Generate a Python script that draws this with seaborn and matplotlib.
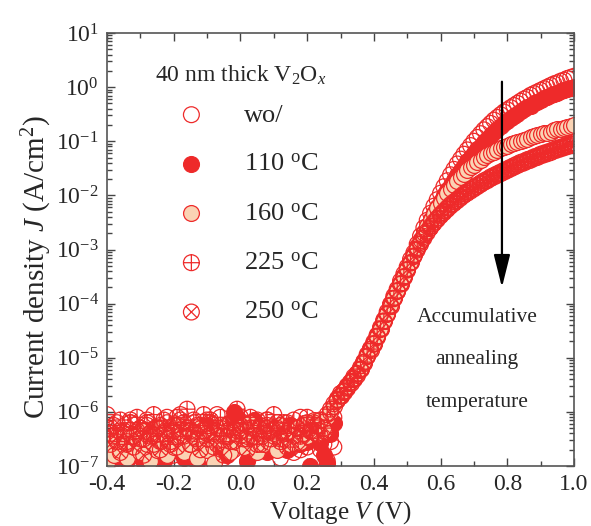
import numpy as np
import pandas as pd
import matplotlib
matplotlib.use("Agg")
import matplotlib.pyplot as plt
from matplotlib.path import Path
from matplotlib.ticker import (MultipleLocator, FixedLocator, FuncFormatter,
                               NullFormatter)
import seaborn as sns

# Voltage sweep, -0.4 V to 1.0 V in 10 mV steps
voltage = np.round(np.linspace(-0.40, 1.00, 141), 2)

# log10 of current density (A/cm^2) for each annealing condition
log_j_wo = [
    -6.55, -6.90, -7.05, -6.60, -6.35, -6.75, -6.45, -6.20, -6.60, -6.85,
    -6.30, -6.50, -6.15, -6.70, -6.40, -6.95, -6.25, -6.55, -6.10, -6.45,
    -6.80, -6.35, -6.05, -6.60, -6.30, -6.75, -6.20, -6.50, -6.90, -6.40,
    -6.15, -6.65, -6.35, -6.05, -6.55, -6.85, -6.25, -6.45, -6.70, -6.30,
    -6.10, -6.60, -6.40, -6.80, -6.20, -6.50, -6.35, -6.70, -6.15, -6.45,
    -6.60, -6.30, -6.85, -6.40, -6.20, -6.55, -6.75, -6.35, -6.10, -6.50,
    -6.65, -6.30, -6.45, -6.20, -6.70, -6.40, -6.90, -6.55, -6.65,
    -5.80, -5.66, -5.62, -5.52, -5.47, -5.35, -5.29, -5.18, -5.07, -4.94,
    -4.83, -4.71, -4.58, -4.44, -4.30, -4.15, -4.01, -3.86, -3.73, -3.58,
    -3.45, -3.32, -3.18,
    -3.06, -2.90, -2.75, -2.60, -2.46, -2.33, -2.20, -2.08, -1.96, -1.84,
    -1.73, -1.62, -1.52, -1.42, -1.33, -1.24, -1.16, -1.08, -1.00, -0.93,
    -0.86, -0.79, -0.73, -0.67, -0.61, -0.56, -0.51, -0.46, -0.42, -0.38,
    -0.34, -0.30, -0.26, -0.22, -0.19, -0.15, -0.12, -0.09, -0.06, -0.03,
    0.00, 0.03, 0.06, 0.08, 0.11, 0.13, 0.16, 0.18, 0.20,
]
log_j_110 = [
    -6.75, -6.95, -6.60, -6.85, -6.70, -6.50, -6.90, -6.65, -6.40, -6.80,
    -6.55, -6.95, -6.35, -6.70, -6.85, -6.45, -6.60, -6.90, -6.50, -6.75,
    -6.30, -6.65, -6.45, -6.85, -6.55, -6.40, -6.70, -6.95, -6.35, -6.60,
    -6.25, -6.50, -7.10, -6.40, -6.65, -6.30, -6.80, -6.45, -6.00, -6.10,
    -6.20, -6.35, -6.90, -6.50, -6.15, -6.40, -6.60, -6.30, -6.75, -6.45,
    -6.35, -6.55, -6.30, -6.40, -6.70, -6.25, -6.50, -6.35, -6.60, -6.40,
    -6.55, -7.00, -6.45, -6.35, -6.58, -6.80, -6.95, -6.40, -6.20,
    -5.74, -5.71, -5.60, -5.55, -5.44, -5.39, -5.28, -5.21, -5.07, -4.97,
    -4.83, -4.74, -4.59, -4.47, -4.31, -4.19, -4.03, -3.90, -3.76, -3.63,
    -3.49, -3.37, -3.22,
    -3.08, -2.94, -2.81, -2.68, -2.56, -2.44, -2.32, -2.21, -2.10, -2.00,
    -1.90, -1.80, -1.71, -1.62, -1.53, -1.45, -1.37, -1.29, -1.22, -1.15,
    -1.08, -1.01, -0.95, -0.89, -0.83, -0.77, -0.72, -0.67, -0.62, -0.57,
    -0.53, -0.49, -0.45, -0.41, -0.37, -0.34, -0.30, -0.27, -0.24, -0.21,
    -0.18, -0.15, -0.13, -0.10, -0.08, -0.06, -0.04, -0.02, 0.00,
]
log_j_160 = [
    -6.95, -6.60, -6.80, -6.45, -6.70, -6.55, -6.85, -6.40, -6.65, -6.50,
    -6.75, -6.35, -6.60, -6.90, -6.45, -6.70, -6.30, -6.55, -6.80, -6.40,
    -6.65, -6.25, -6.50, -6.75, -6.35, -6.60, -6.45, -6.85, -6.30, -6.55,
    -6.70, -6.40, -6.95, -6.50, -6.25, -6.60, -6.45, -6.75, -6.35, -6.55,
    -6.30, -6.65, -6.45, -6.20, -6.50, -6.75, -6.40, -6.60, -6.30, -6.55,
    -6.45, -6.70, -6.25, -6.50, -6.35, -6.60, -6.40, -6.30, -6.55, -6.20,
    -6.45, -6.35, -6.15, -6.40, -6.25, -6.35, -6.10, -6.00, -5.90,
    -5.76, -5.69, -5.64, -5.53, -5.47, -5.37, -5.31, -5.19, -5.09, -4.95,
    -4.85, -4.72, -4.61, -4.45, -4.33, -4.17, -4.04, -3.88, -3.77, -3.61,
    -3.50, -3.35, -3.23,
    -3.09, -2.95, -2.82, -2.69, -2.57, -2.45, -2.34, -2.24, -2.14, -2.05,
    -1.96, -1.88, -1.80, -1.73, -1.66, -1.60, -1.54, -1.48, -1.43, -1.38,
    -1.34, -1.30, -1.26, -1.22, -1.19, -1.16, -1.13, -1.10, -1.08, -1.05,
    -1.03, -1.01, -0.99, -0.97, -0.95, -0.93, -0.91, -0.89, -0.87, -0.85,
    -0.84, -0.82, -0.80, -0.78, -0.77, -0.75, -0.73, -0.72, -0.70,
]
log_j_225 = [
    -6.05, -6.40, -6.25, -6.55, -6.15, -6.35, -6.60, -6.20, -6.45, -6.10,
    -6.30, -6.50, -6.20, -6.40, -6.05, -6.30, -6.55, -6.15, -6.35, -6.60,
    -6.25, -6.10, -6.45, -6.20, -5.95, -6.35, -6.15, -6.50, -6.25, -6.05,
    -6.40, -6.20, -6.65, -6.30, -6.10, -6.45, -6.25, -6.55, -6.15, -5.95,
    -6.35, -6.20, -6.50, -6.10, -6.30, -6.60, -6.25, -6.40, -6.15, -6.35,
    -6.05, -6.30, -6.50, -6.20, -6.40, -6.65, -6.15, -6.30, -6.45, -6.25,
    -6.10, -6.35, -6.20, -6.40, -6.15, -6.30, -6.05, -5.95, -5.85,
    -5.78, -5.70, -5.62, -5.55, -5.45, -5.38, -5.29, -5.21, -5.08, -4.97,
    -4.84, -4.74, -4.60, -4.47, -4.32, -4.19, -4.03, -3.90, -3.76, -3.63,
    -3.50, -3.37, -3.24,
    -3.12, -2.99, -2.87, -2.76, -2.66, -2.57, -2.49, -2.42, -2.35, -2.29,
    -2.23, -2.17, -2.12, -2.07, -2.02, -1.97, -1.93, -1.89, -1.85, -1.81,
    -1.77, -1.73, -1.70, -1.66, -1.63, -1.60, -1.57, -1.54, -1.51, -1.48,
    -1.45, -1.42, -1.39, -1.37, -1.34, -1.32, -1.29, -1.27, -1.24, -1.22,
    -1.20, -1.18, -1.15, -1.13, -1.11, -1.09, -1.07, -1.05, -1.03,
]
log_j_250 = [
    -6.30, -6.60, -6.45, -6.20, -6.75, -6.40, -6.55, -6.15, -6.65, -6.35,
    -6.50, -6.80, -6.25, -6.45, -6.60, -6.30, -6.70, -6.40, -6.20, -6.55,
    -6.35, -6.65, -6.15, -6.45, -6.30, -6.60, -6.40, -6.25, -6.70, -6.35,
    -6.50, -6.15, -6.40, -6.60, -6.30, -6.80, -6.45, -6.20, -6.55, -6.35,
    -6.25, -6.50, -6.70, -6.30, -6.45, -6.15, -6.60, -6.35, -6.25, -6.50,
    -6.40, -6.20, -6.55, -6.35, -6.65, -6.25, -6.45, -6.30, -6.70, -6.40,
    -6.20, -6.50, -6.35, -6.25, -6.45, -6.60, -7.00, -6.40, -6.10,
    -5.79, -5.71, -5.63, -5.56, -5.46, -5.39, -5.30, -5.22, -5.09, -4.98,
    -4.85, -4.75, -4.61, -4.48, -4.33, -4.20, -4.04, -3.91, -3.77, -3.64,
    -3.51, -3.38, -3.25,
    -3.13, -3.01, -2.90, -2.79, -2.69, -2.60, -2.52, -2.45, -2.38, -2.32,
    -2.26, -2.20, -2.15, -2.10, -2.05, -2.00, -1.96, -1.92, -1.88, -1.84,
    -1.80, -1.76, -1.73, -1.69, -1.66, -1.63, -1.60, -1.57, -1.54, -1.51,
    -1.48, -1.45, -1.42, -1.40, -1.37, -1.35, -1.32, -1.30, -1.27, -1.25,
    -1.23, -1.21, -1.18, -1.16, -1.14, -1.12, -1.10, -1.08, -1.06,
]

labels = ["wo/", "110 $^\\mathrm{o}$C", "160 $^\\mathrm{o}$C",
          "225 $^\\mathrm{o}$C", "250 $^\\mathrm{o}$C"]
series = [log_j_wo, log_j_110, log_j_160, log_j_225, log_j_250]
legend_title = "40 nm thick V$_2$O$_x$"

# Decades shown on the current-density axis
y_decades = [-7, -6, -5, -4, -3, -2, -1, 0, 1]

# Arrow marking the trend with annealing temperature (V, log10 J)
arrow_v = 0.784
arrow_log_j = (0.10, -3.70)
note_v, note_log_j = 0.709, -5.04

RED = "#ee2a2a"
PEACH = "#fad3b4"

# Circle markers with an inscribed "+" or "x"
circ = Path.unit_circle()
s2 = np.sqrt(0.5)
plus_path = Path.make_compound_path(
    circ, Path([(-1, 0), (1, 0), (0, -1), (0, 1)],
               [Path.MOVETO, Path.LINETO, Path.MOVETO, Path.LINETO]))
cross_path = Path.make_compound_path(
    circ, Path([(-s2, -s2), (s2, s2), (-s2, s2), (s2, -s2)],
               [Path.MOVETO, Path.LINETO, Path.MOVETO, Path.LINETO]))

styles = [
    dict(marker="o", facecolor="none", edgecolor=RED),
    dict(marker="o", facecolor=RED, edgecolor=RED),
    dict(marker="o", facecolor=PEACH, edgecolor=RED),
    dict(marker=plus_path, facecolor="none", edgecolor=RED),
    dict(marker=cross_path, facecolor="none", edgecolor=RED),
]

for lab, vals in zip(labels, series):
    assert len(vals) == len(voltage), lab

df = pd.concat([
    pd.DataFrame({"V": voltage, "J": 10.0 ** np.array(vals), "sample": lab})
    for lab, vals in zip(labels, series)
], ignore_index=True)

sns.set_style("ticks")
plt.rcParams.update({
    "font.family": ["Liberation Serif", "DejaVu Serif"],
    "mathtext.fontset": "custom",
    "mathtext.rm": "Liberation Serif",
    "mathtext.it": "Liberation Serif:italic",
    "mathtext.bf": "Liberation Serif:bold",
    "axes.unicode_minus": False,
    "axes.edgecolor": "#555555",
    "axes.linewidth": 1.2,
})

fig = plt.figure(figsize=(5.91, 5.26), dpi=100)
ax = fig.add_axes([107 / 591, 60 / 526, 467 / 591, 433 / 526])

for lab, st in zip(labels, styles):
    sub = df[df["sample"] == lab]
    sns.scatterplot(data=sub, x="V", y="J", ax=ax, s=130, linewidth=0.9,
                    label=lab, legend=False, **st)

ax.set_yscale("log")
ax.set_xlim(-0.4, 1.0)
ax.set_ylim(10.0 ** y_decades[0], 10.0 ** y_decades[-1])

ax.xaxis.set_major_locator(MultipleLocator(0.2))
ax.xaxis.set_minor_locator(MultipleLocator(0.1))
ax.xaxis.set_major_formatter(FuncFormatter(lambda v, p: f"{v:.1f}"))

major_y = [10.0 ** d for d in y_decades]
minor_y = [k * 10.0 ** d for d in y_decades[:-1] for k in range(2, 10)]
ax.yaxis.set_major_locator(FixedLocator(major_y))
ax.yaxis.set_minor_locator(FixedLocator(minor_y))
ax.yaxis.set_major_formatter(
    FuncFormatter(lambda v, p: "$\\mathrm{10^{%d}}$" % int(round(np.log10(v)))))
ax.yaxis.set_minor_formatter(NullFormatter())

ax.tick_params(which="both", direction="in", top=True, right=True,
               color="#444444", width=1.0)
ax.tick_params(which="major", length=6, labelsize=17, pad=6)
ax.tick_params(which="minor", length=3.5)

ax.set_xlabel("Voltage $V$ (V)", fontsize=18, labelpad=3)
ax.set_ylabel("Current density $J$ (A/cm$^2$)", fontsize=21)
ax.yaxis.set_label_coords(-0.114, 0.46)

# Legend entries with the film description above them
ax.text(0.103, 0.903, legend_title, transform=ax.transAxes,
        ha="left", va="center", fontsize=17)
leg = ax.legend(loc="upper left", bbox_to_anchor=(0.103, 0.838),
                fontsize=19, frameon=False, borderpad=0, borderaxespad=0,
                handlelength=2.75, handletextpad=0.6, labelspacing=0.98,
                scatterpoints=1, alignment="left")

ax.annotate("", xy=(arrow_v, 10 ** arrow_log_j[1]),
            xytext=(arrow_v, 10 ** arrow_log_j[0]),
            arrowprops=dict(arrowstyle="-|>,head_length=1.0,head_width=0.25",
                            mutation_scale=20, lw=1.6, color="black",
                            shrinkA=0, shrinkB=0))
ax.text(note_v, 10 ** note_log_j, "Accumulative\nannealing\ntemperature",
        ha="center", va="center", fontsize=15.5, linespacing=2.7)

fig.savefig("out.png", dpi=100)
